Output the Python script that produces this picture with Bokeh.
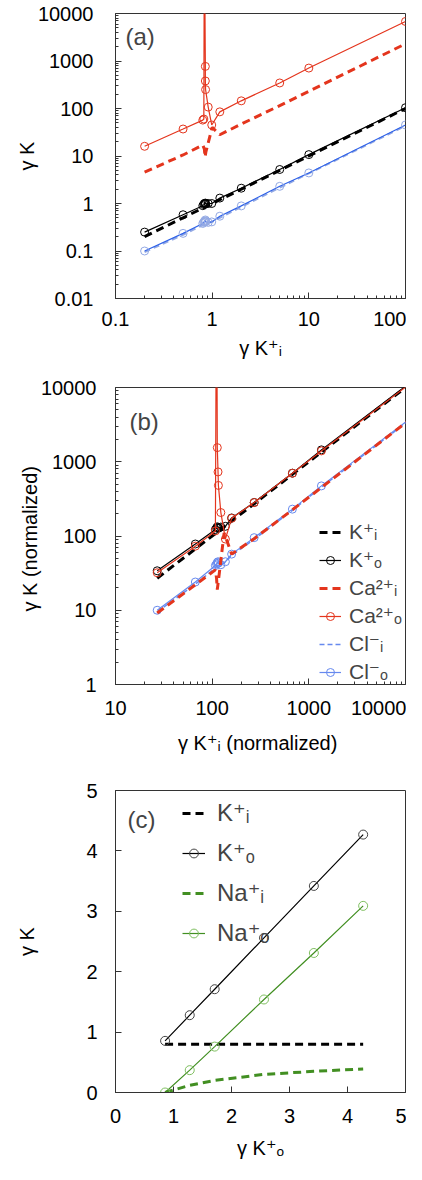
from bokeh.plotting import figure
from bokeh.models import (FixedTicker, CustomJSTickFormatter, Legend, LegendItem,
                          Label, Range1d)
from bokeh.layouts import column
from bokeh.embed import file_html
from bokeh.resources import INLINE

FONT = "Liberation Sans, DejaVu Sans"
RED = "#e4351d"
BLUE_A = "#2f62e8"
BLUE_A_LIGHT = "#93a9e4"
BLUE_B = "#6689ee"
GREEN = "#428f22"
FRAME = "#333333"

# ---------------- panel (a) data ----------------
a_x = [0.2, 0.5, 0.8, 0.82, 0.83, 0.85, 0.85, 0.855, 0.91, 0.99, 1.2, 2, 5, 10, 100]
a_ca_o = [16, 37, 57, 60, 1e6, 770, 380, 250, 107, 45, 85, 145, 345, 710, 6800]
a_k_o = [0.25, 0.58, 0.9, 0.95, 1.0, 1.02, 1.0, 0.98, 1.0, 1.0, 1.3, 2.1, 5.2, 10.7, 104]
a_cl_o = [0.1, 0.235, 0.38, 0.4, 0.42, 0.45, 0.43, 0.41, 0.4, 0.41, 0.54, 0.89, 2.3, 4.4, 45]
a_xi = [0.2, 0.5, 0.8, 0.83, 0.845, 0.86, 1.0, 1.2, 2, 5, 10, 100]
a_k_i = [0.2, 0.5, 0.8, 0.83, 0.845, 0.86, 1.0, 1.2, 2, 5, 10, 100]
a_ca_i = [4.6, 10.5, 17, 14, 9.5, 12, 40, 28, 47, 115, 230, 2300]
a_cl_i = [0.095, 0.22, 0.35, 0.37, 0.38, 0.38, 0.41, 0.5, 0.85, 2.15, 4.3, 43]
a_xticks = [0.1, 1, 10, 100]
a_yticks = [0.01, 0.1, 1, 10, 100, 1000, 10000]

# ---------------- panel (b) data ----------------
b_x = [27, 67, 108, 111, 113, 115, 116, 123, 137, 159, 272, 676, 1350, 13500]
b_ca_o = [32, 73, 117, 1e6, 1550, 730, 480, 207, 91, 173, 282, 700, 1400, 13600]
b_k_o = [34, 78, 122, 128, 133, 130, 127, 132, 135, 175, 283, 702, 1445, 14000]
b_cl_o = [10, 24, 40, 42, 44, 45, 43, 41, 45, 57, 95, 230, 473, 4600]
b_xi = [27, 67, 108, 111, 113, 118, 133, 159, 272, 676, 1350, 13500]
b_k_i = [27, 67, 108, 111, 113, 118, 133, 159, 272, 676, 1350, 13500]
b_ca_i = [9.2, 22, 35, 27, 19, 30, 110, 57, 92, 225, 450, 4500]
b_cl_i = [9.5, 22.5, 37, 39, 40, 40, 43, 55, 90, 222, 455, 4450]
b_xticks = [10, 100, 1000, 10000]
b_yticks = [1, 10, 100, 1000, 10000]

# ---------------- panel (c) data ----------------
c_x = [0.855, 1.28, 1.71, 2.56, 3.42, 4.27]
c_k_o = [0.855, 1.28, 1.71, 2.56, 3.42, 4.27]
c_na_o = [0.0, 0.37, 0.76, 1.54, 2.31, 3.09]
c_k_i = [0.8, 0.8, 0.8, 0.8, 0.8, 0.8]
c_na_i = [0.0, 0.12, 0.2, 0.3, 0.35, 0.39]
c_ticks = [0, 1, 2, 3, 4, 5]


def minor_log(majors):
    out = []
    for m in majors[:-1]:
        out += [m * k for k in range(2, 10)]
    return out


def style(p, xstand, ystand, xlab_stand, ylab_stand, minor=True):
    p.xgrid.visible = False
    p.ygrid.visible = False
    p.outline_line_color = FRAME
    p.outline_line_width = 1
    p.background_fill_color = "white"
    p.border_fill_color = "white"
    for ax in (p.xaxis[0], p.yaxis[0]):
        ax.major_tick_in = 6
        ax.major_tick_out = 0
        ax.minor_tick_in = 3
        ax.minor_tick_out = 0
        ax.axis_line_color = FRAME
        ax.major_tick_line_color = FRAME
        ax.minor_tick_line_color = FRAME if minor else None
        ax.major_label_text_font = FONT
        ax.major_label_text_font_size = "20px"
        ax.major_label_text_color = "black"
        ax.axis_label_text_font = FONT
        ax.axis_label_text_font_size = "20px"
        ax.axis_label_text_font_style = "normal"
        ax.axis_label_text_color = "black"
    p.xaxis[0].major_label_standoff = xstand
    p.yaxis[0].major_label_standoff = ystand
    p.xaxis[0].axis_label_standoff = xlab_stand
    p.yaxis[0].axis_label_standoff = ylab_stand
    p.xaxis[0].major_label_text_align = "right"


fmt = "return tick.toString();"

# ================= panel (a) =================
pa = figure(width=406, height=372, x_axis_type="log", y_axis_type="log",
            x_range=Range1d(0.1, 100), y_range=Range1d(0.01, 10000),
            output_backend="svg", toolbar_location=None,
            min_border_left=115, min_border_right=1, min_border_top=13,
            min_border_bottom=74)
pa.xaxis.ticker = FixedTicker(ticks=a_xticks, minor_ticks=minor_log(a_xticks))
pa.yaxis.ticker = FixedTicker(ticks=a_yticks, minor_ticks=minor_log(a_yticks))
pa.xaxis.formatter = CustomJSTickFormatter(code=fmt)
pa.yaxis.formatter = CustomJSTickFormatter(code=fmt)
pa.xaxis.axis_label = "γ K⁺ᵢ"
pa.yaxis.axis_label = "γ K"
style(pa, 13, 22, 8, -3)

pa.line(a_xi, a_k_i, line_color="black", line_width=3, line_dash="8 5")
pa.line(a_x, a_k_o, line_color="black", line_width=1.2)
pa.scatter(a_x, a_k_o, marker="circle", size=8, fill_color=None, line_color="black")
pa.line(a_xi, a_cl_i, line_color=BLUE_A_LIGHT, line_width=2, line_dash="6 4")
pa.line(a_x, a_cl_o, line_color=BLUE_A, line_width=1.2)
pa.scatter(a_x, a_cl_o, marker="circle", size=8, fill_color=None, line_color=BLUE_A_LIGHT)
pa.line(a_xi, a_ca_i, line_color=RED, line_width=3, line_dash="8 5")
pa.line(a_x, a_ca_o, line_color=RED, line_width=1.2)
pa.scatter(a_x, a_ca_o, marker="circle", size=8, fill_color=None, line_color=RED)
pa.add_layout(Label(x=10, y=262, x_units="screen", y_units="screen", text="(a)",
                    text_font=FONT, text_font_size="24px", text_baseline="middle"))

# ================= panel (b) =================
pb = figure(width=406, height=388, x_axis_type="log", y_axis_type="log",
            x_range=Range1d(10, 10000), y_range=Range1d(1, 10000),
            output_backend="svg", toolbar_location=None,
            min_border_left=111, min_border_right=1, min_border_top=15,
            min_border_bottom=76)
pb.xaxis.ticker = FixedTicker(ticks=b_xticks, minor_ticks=minor_log(b_xticks))
pb.yaxis.ticker = FixedTicker(ticks=b_yticks, minor_ticks=minor_log(b_yticks))
pb.xaxis.formatter = CustomJSTickFormatter(code=fmt)
pb.yaxis.formatter = CustomJSTickFormatter(code=fmt)
pb.xaxis.axis_label = "γ K⁺ᵢ  (normalized)"
pb.yaxis.axis_label = "γ K  (normalized)"
style(pb, 16, 19, 14, -3)

r_ki = pb.line(b_xi, b_k_i, line_color="black", line_width=3, line_dash="8 5")
r_kol = pb.line(b_x, b_k_o, line_color="black", line_width=1.2)
r_kos = pb.scatter(b_x, b_k_o, marker="circle", size=8, fill_color=None, line_color="black")
r_cli = pb.line(b_xi, b_cl_i, line_color=BLUE_B, line_width=1.5, line_dash="5 3")
r_clol = pb.line(b_x, b_cl_o, line_color=BLUE_B, line_width=1.2)
r_clos = pb.scatter(b_x, b_cl_o, marker="circle", size=8, fill_color=None, line_color=BLUE_B)
r_cai = pb.line(b_xi, b_ca_i, line_color=RED, line_width=3, line_dash="8 5")
r_caol = pb.line(b_x, b_ca_o, line_color=RED, line_width=1.2)
r_caos = pb.scatter(b_x, b_ca_o, marker="circle", size=8, fill_color=None, line_color=RED)

leg_b = Legend(items=[
    LegendItem(label="K⁺ᵢ", renderers=[r_ki]),
    LegendItem(label="K⁺ₒ", renderers=[r_kol, r_kos]),
    LegendItem(label="Ca²⁺ᵢ", renderers=[r_cai]),
    LegendItem(label="Ca²⁺ₒ", renderers=[r_caol, r_caos]),
    LegendItem(label="Cl⁻ᵢ", renderers=[r_cli]),
    LegendItem(label="Cl⁻ₒ", renderers=[r_clol, r_clos]),
], location=(204, 0), border_line_color=None, background_fill_alpha=0,
    padding=0, margin=0, label_text_font=FONT, label_text_font_size="21px",
    glyph_width=22, glyph_height=20, label_height=20, spacing=4, label_standoff=8)
pb.add_layout(leg_b)
pb.add_layout(Label(x=14, y=263, x_units="screen", y_units="screen", text="(b)",
                    text_font=FONT, text_font_size="24px", text_baseline="middle"))

# ================= panel (c) =================
pc = figure(width=406, height=404, x_range=Range1d(0, 5), y_range=Range1d(0, 5),
            output_backend="svg", toolbar_location=None,
            min_border_left=110, min_border_right=1, min_border_top=30,
            min_border_bottom=72)
pc.xaxis.ticker = FixedTicker(ticks=c_ticks)
pc.yaxis.ticker = FixedTicker(ticks=c_ticks)
pc.xaxis.axis_label = "γ K⁺ₒ"
pc.yaxis.axis_label = "γ K"
style(pc, 16, 18, 11, 45, minor=False)

r_cki = pc.line(c_x, c_k_i, line_color="black", line_width=3, line_dash="8 5")
r_ckol = pc.line(c_x, c_k_o, line_color="black", line_width=1.2)
r_ckos = pc.scatter(c_x, c_k_o, marker="circle", size=9, fill_color=None, line_color="#444444")
r_cnai = pc.line(c_x, c_na_i, line_color=GREEN, line_width=3, line_dash="8 5")
r_cnaol = pc.line(c_x, c_na_o, line_color=GREEN, line_width=1.2)
r_cnaos = pc.scatter(c_x, c_na_o, marker="circle", size=9, fill_color=None, line_color="#7fbf60")

leg_c = Legend(items=[
    LegendItem(label="K⁺ᵢ", renderers=[r_cki]),
    LegendItem(label="K⁺ₒ", renderers=[r_ckol, r_ckos]),
    LegendItem(label="Na⁺ᵢ", renderers=[r_cnai]),
    LegendItem(label="Na⁺ₒ", renderers=[r_cnaol, r_cnaos]),
], location=(67, 145), border_line_color=None, background_fill_alpha=0,
    padding=0, margin=0, label_text_font=FONT, label_text_font_size="24px",
    glyph_width=23, glyph_height=22, label_height=22, spacing=12, label_standoff=12)
pc.add_layout(leg_c)
pc.add_layout(Label(x=12, y=273, x_units="screen", y_units="screen", text="(c)",
                    text_font=FONT, text_font_size="24px", text_baseline="middle"))

layout = column(pa, pb, pc)
open("out.html", "w").write(file_html(layout, INLINE))
